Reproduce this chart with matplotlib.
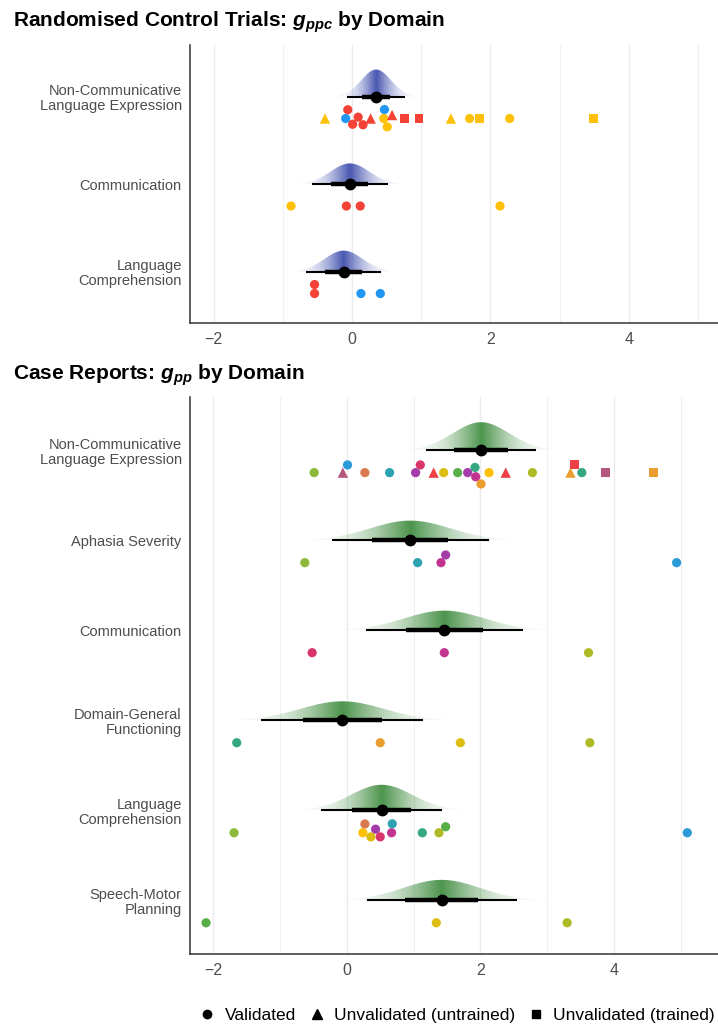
import math
import numpy as np
import matplotlib
matplotlib.use("Agg")
import matplotlib.pyplot as plt
from matplotlib.patches import Polygon
from matplotlib.lines import Line2D
from matplotlib.colors import to_rgb

plt.rcParams["font.family"] = ["Liberation Sans", "DejaVu Sans"]
plt.rcParams["mathtext.fontset"] = "custom"
plt.rcParams["mathtext.it"] = "Liberation Sans:italic:bold"
plt.rcParams["mathtext.rm"] = "Liberation Sans:bold"
plt.rcParams["mathtext.bf"] = "Liberation Sans:bold"

# study colours
red = "#F44336"
blue = "#2196F3"
amber = "#FFC107"
lime = "#8DB83A"
mauve = "#B5577D"
cblue = "#2B9AD8"
brown = "#D9794F"
teal = "#2EA3B3"
purple = "#A43DAA"
crimson = "#D9356B"
cred = "#EE4046"
mustard = "#DCBE12"
green = "#58AE48"
orange = "#EA9E30"
tealgreen = "#35A882"
magenta = "#C23490"
yellow = "#FFC107"
olive = "#AEBB27"

# ---- randomised control trials ----
rct_domains = ["Non-Communicative\nLanguage Expression", "Communication", "Language\nComprehension"]
rct_mean = [0.35, -0.03, -0.12]
rct_sd = [0.214, 0.28, 0.276]

rct_pt_domain = [0] * 18 + [1] * 4 + [2] * 4
rct_pt_g = [-0.39, -0.09, -0.06, 0.01, 0.09, 0.16, 0.27, 0.46, 0.47, 0.51, 0.58, 0.76, 0.97, 1.43, 1.70, 1.84, 2.28, 3.49,
            -0.88, -0.08, 0.12, 2.14,
            -0.54, -0.54, 0.13, 0.41]
rct_pt_colour = [amber, blue, red, red, red, red, red, amber, blue, amber, red, red, red, amber, amber, amber, amber, amber,
                 amber, red, red, amber,
                 red, red, blue, blue]
rct_pt_type = ["^", "o", "o", "o", "o", "o", "^", "o", "o", "o", "^", "s", "s", "^", "o", "s", "o", "s",
               "o", "o", "o", "o",
               "o", "o", "o", "o"]

# ---- case reports ----
cr_domains = ["Non-Communicative\nLanguage Expression", "Aphasia Severity", "Communication",
              "Domain-General\nFunctioning", "Language\nComprehension", "Speech-Motor\nPlanning"]
cr_mean = [2.01, 0.95, 1.46, -0.07, 0.52, 1.42]
cr_sd = [0.42, 0.60, 0.60, 0.62, 0.46, 0.574]

cr_pt_domain = [0] * 22 + [1] * 5 + [2] * 3 + [3] * 4 + [4] * 12 + [5] * 3
cr_pt_g = [-0.49, -0.06, 0.01, 0.27, 0.64, 1.03, 1.10, 1.30, 1.45, 1.66, 1.81, 1.92, 1.93, 2.01, 2.13, 2.38, 2.78,
           3.35, 3.41, 3.52, 3.87, 4.59,
           -0.63, 1.06, 1.41, 1.48, 4.94,
           -0.52, 1.46, 3.62,
           -1.65, 0.50, 1.70, 3.64,
           -1.69, 0.24, 0.27, 0.36, 0.43, 0.50, 0.67, 0.68, 1.13, 1.38, 1.48, 5.10,
           -2.11, 1.34, 3.30]
cr_pt_colour = [lime, mauve, cblue, brown, teal, purple, crimson, cred, mustard, green, purple, tealgreen, magenta,
                orange, yellow, cred, olive, orange, cred, tealgreen, mauve, orange,
                lime, teal, magenta, purple, cblue,
                crimson, magenta, olive,
                tealgreen, orange, mustard, olive,
                lime, yellow, brown, mustard, purple, crimson, magenta, teal, tealgreen, olive, green, cblue,
                green, mustard, olive]
cr_pt_type = ["o", "^", "o", "o", "o", "o", "o", "^", "o", "o", "o", "o", "o", "o", "o", "^", "o",
              "^", "s", "o", "s", "s"] + ["o"] * 27

marker_size = {"o": 44, "^": 56, "s": 40}


def normcdf(z):
    return np.array([0.5 * (1 + math.erf(v / math.sqrt(2))) for v in z])


def swarm(xs, xpx, ypx, dia):
    # greedy beeswarm in pixel space, returns offsets in data units (positive = up)
    placed = []
    out = [0.0] * len(xs)
    for i in sorted(range(len(xs)), key=lambda k: xs[k]):
        px = xs[i] * xpx
        near = [(qx, qy) for qx, qy in placed if abs(qx - px) < dia]
        cands = [0.0]
        for qx, qy in near:
            h = math.sqrt(dia ** 2 - (qx - px) ** 2)
            cands += [qy + h, qy - h]
        cands.sort(key=lambda c: (abs(c), -c))
        for c in cands:
            if all((qx - px) ** 2 + (qy - c) ** 2 >= dia ** 2 - 1e-6 for qx, qy in near):
                break
        placed.append((px, c))
        out[i] = c / ypx
    return out


def draw_panel(ax, domains, means, sds, pt_dom, pt_g, pt_col, pt_type, fill, xlim, ylim):
    ax.set_xlim(*xlim)
    ax.set_ylim(*ylim)
    fig = ax.figure
    bb = ax.get_position()
    xpx = bb.width * fig.get_figwidth() * fig.dpi / (xlim[1] - xlim[0])
    ypx = bb.height * fig.get_figheight() * fig.dpi / (ylim[1] - ylim[0])

    n = len(domains)
    ypos = [n - i for i in range(n)]
    hmax = 0.31
    minsd = min(sds)
    rgb = to_rgb(fill)

    for i in range(n):
        mu, sd, y0 = means[i], sds[i], ypos[i]
        xs = np.linspace(mu - 4 * sd, mu + 4 * sd, 400)
        z = (xs - mu) / sd
        dens = hmax * (minsd / sd) * np.exp(-z ** 2 / 2)
        verts = np.column_stack([np.r_[xs, xs[::-1]], np.r_[y0 + dens, np.full(len(xs), y0)]])
        patch = Polygon(verts, closed=True, facecolor="none", edgecolor="none")
        ax.add_patch(patch)
        img = np.zeros((1, len(xs), 4))
        img[0, :, :3] = rgb
        img[0, :, 3] = 0.92 * (2 * (1 - normcdf(np.abs(z)))) ** 0.8
        im = ax.imshow(img, extent=[xs[0], xs[-1], y0, y0 + hmax], origin="lower", aspect="auto",
                       interpolation="bilinear", zorder=2)
        im.set_clip_path(patch)

        ax.plot([mu - 1.96 * sd, mu + 1.96 * sd], [y0, y0], color="black", lw=1.5, solid_capstyle="butt", zorder=4)
        ax.plot([mu - 0.954 * sd, mu + 0.954 * sd], [y0, y0], color="black", lw=3.2, solid_capstyle="butt", zorder=4)
        ax.plot(mu, y0, "o", color="black", ms=7.5, zorder=5)

        idx = [k for k in range(len(pt_g)) if pt_dom[k] == i]
        offs = swarm([pt_g[k] for k in idx], xpx, ypx, 9.0)
        for k, off in zip(idx, offs):
            ax.scatter(pt_g[k], y0 - 0.25 + off, s=marker_size[pt_type[k]], marker=pt_type[k],
                       color=pt_col[k], edgecolors="none", zorder=6)

    ax.set_xlim(*xlim)
    ax.set_ylim(*ylim)
    ax.set_yticks(ypos, domains)
    for lab in ax.get_yticklabels():
        lab.set_linespacing(1.12)
    ax.set_xticks([-2, 0, 2, 4])
    ax.set_xticks([-1, 1, 3, 5], minor=True)
    ax.grid(which="major", axis="x", color="#EBEBEB", lw=1.0, zorder=0)
    ax.grid(which="minor", axis="x", color="#F0F0F0", lw=0.8, zorder=0)
    ax.set_axisbelow(True)
    for s in ["top", "right"]:
        ax.spines[s].set_visible(False)
    for s in ["left", "bottom"]:
        ax.spines[s].set_color("#333333")
        ax.spines[s].set_linewidth(1.1)
    ax.tick_params(which="both", length=0, labelsize=10.5, labelcolor="#4D4D4D", pad=6)
    ax.tick_params(axis="x", labelsize=11.5)


fig = plt.figure(figsize=(7.18, 10.24), dpi=100)
W, H = 718.0, 1024.0

ax1 = fig.add_axes([190 / W, 1 - 323.3 / H, 1 - 190 / W, (323.3 - 45) / H])
draw_panel(ax1, rct_domains, rct_mean, rct_sd, rct_pt_domain, rct_pt_g, rct_pt_colour, rct_pt_type,
           "#3949AB", (-2.34, 5.29), (0.41, 3.59))

ax2 = fig.add_axes([190 / W, 1 - 954.3 / H, 1 - 190 / W, (954.3 - 397) / H])
draw_panel(ax2, cr_domains, cr_mean, cr_sd, cr_pt_domain, cr_pt_g, cr_pt_colour, cr_pt_type,
           "#3D8B3D", (-2.35, 5.56), (0.40, 6.59))

fig.text(13 / W, 1 - 27 / H, r"Randomised Control Trials: $g_{ppc}$ by Domain", fontsize=15,
         fontweight="bold", va="baseline", ha="left")
fig.text(13 / W, 1 - 380 / H, r"Case Reports: $g_{pp}$ by Domain", fontsize=15,
         fontweight="bold", va="baseline", ha="left")

handles = [Line2D([], [], marker=m, ls="none", color="black", ms=ms) for m, ms in [("o", 6), ("^", 7), ("s", 6)]]
fig.legend(handles, ["Validated", "Unvalidated (untrained)", "Unvalidated (trained)"], loc="center",
           bbox_to_anchor=(0.636, 1 - 1015 / H), ncol=3, frameon=False, fontsize=12.5,
           handletextpad=0.5, columnspacing=0.7, handlelength=1.0)

fig.savefig("out.png", dpi=100)
